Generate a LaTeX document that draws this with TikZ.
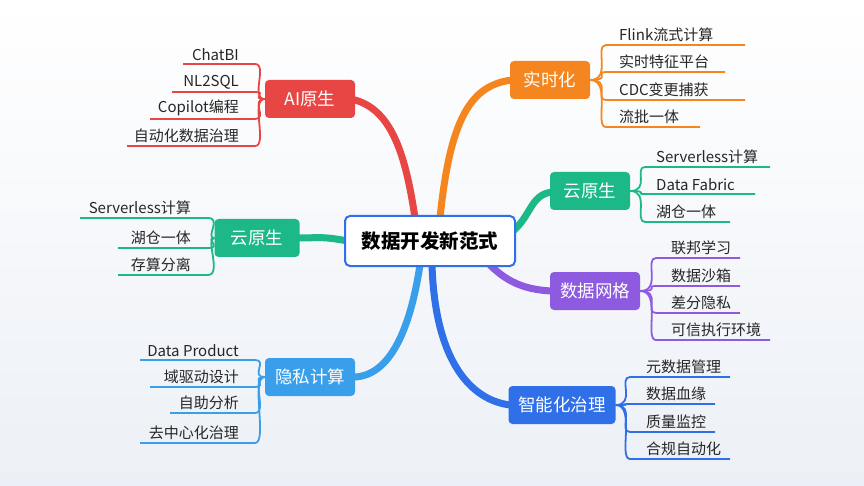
\documentclass[tikz,border=0pt]{standalone}
\usepackage{fontspec}
\setmainfont{Noto Sans CJK SC}
\begin{document}
\begin{tikzpicture}[x=1pt,y=-1pt,
  br/.style={line width=7pt,line cap=round},
  bx/.style={rounded corners=4pt,text=white,font=\fontsize{17.5}{19}\selectfont,minimum height=38pt,inner xsep=6pt},
  lf/.style={font=\fontsize{15}{17}\selectfont,text=black!85,inner sep=1pt},
  ln/.style={line width=1.8pt}]
\definecolor{cR}{HTML}{E84545}\definecolor{cO}{HTML}{F5861F}\definecolor{cG}{HTML}{1DB887}
\definecolor{cP}{HTML}{8E5BE0}\definecolor{cB}{HTML}{2F6FE8}\definecolor{cL}{HTML}{3A9FEA}
\fill[top color=white,bottom color={rgb,255:red,236;green,240;blue,246}] (0,0) rectangle (864,486);
\useasboundingbox (0,0) rectangle (864,486);
% branches
\coordinate (a0) at (415,218); \coordinate (a1) at (355,100);
\draw[br,cR] (a0) .. controls (405,150) and (390,110) .. (a1);
\coordinate (b0) at (440,218); \coordinate (b1) at (512,80);
\draw[br,cO] (b0) .. controls (450,120) and (470,85) .. (b1);
\coordinate (c0) at (512,232); \coordinate (c1) at (552,192);
\draw[br,cG] (c0) .. controls (532,215) and (530,195) .. (c1);
\coordinate (d0) at (490,265); \coordinate (d1) at (552,291);
\draw[br,cP] (d0) .. controls (510,285) and (530,290) .. (d1);
\coordinate (e0) at (432,265); \coordinate (e1) at (510,405);
\draw[br,cB] (e0) .. controls (435,360) and (470,400) .. (e1);
\coordinate (f0) at (420,265); \coordinate (f1) at (355,377);
\draw[br,cL] (f0) .. controls (410,330) and (390,375) .. (f1);
\coordinate (g0) at (348,241); \coordinate (g1) at (298,238);
\draw[br,cG] (g0) .. controls (320,236) and (320,238) .. (g1);
% nodes
\node[draw=cB,line width=2pt,fill=white,rounded corners=5pt,minimum width=170pt,minimum height=50pt,font=\fontsize{19.5}{21}\selectfont\bfseries] (center) at (430,241) {数据开发新范式};
\node[bx,fill=cR,minimum width=90pt] (ai) at (310,99) {AI原生};
\node[bx,fill=cO,minimum width=80pt] (rt) at (550,80) {实时化};
\node[bx,fill=cG,minimum width=80pt] (cnr) at (590,191) {云原生};
\node[bx,fill=cP,minimum width=90pt] (mesh) at (595,291) {数据网格};
\node[bx,fill=cB,minimum width=107pt] (gov) at (562,405) {智能化治理};
\node[bx,fill=cL,minimum width=90pt] (priv) at (310,377) {隐私计算};
\node[bx,fill=cG,minimum width=85pt] (cnl) at (257,238) {云原生};
% left leaves
\foreach \y/\xs/\t [count=\i] in {64/183/ChatBI,92/172/NL2SQL,119/150/Copilot编程,146/127/自动化数据治理}{
  \node[lf,anchor=south east] (ail\i) at (240,\y-2) {\t};
  \draw[ln,cR] (ai.west) .. controls (250,99) and (268,\y) .. (255,\y) -- (\xs,\y);}
\foreach \y/\xs/\t [count=\i] in {218/80/Serverless计算,248/118/湖仓一体,275/118/存算分离}{
  \node[lf,anchor=south east] (cll\i) at (192,\y-2) {\t};
  \draw[ln,cG] (cnl.west) .. controls (205,238) and (222,\y) .. (208,\y) -- (\xs,\y);}
\foreach \y/\xs/\t [count=\i] in {360/140/Data Product,387/150/域驱动设计,413/170/自助分析,443/140/去中心化治理}{
  \node[lf,anchor=south east] (pl\i) at (240,\y-2) {\t};
  \draw[ln,cL] (priv.west) .. controls (250,377) and (268,\y) .. (255,\y) -- (\xs,\y);}
% right leaves
\foreach \y/\xe/\t [count=\i] in {45/745/Flink流式计算,72/725/实时特征平台,100/745/CDC变更捕获,127/700/流批一体}{
  \node[lf,anchor=south west] (rtl\i) at (618,\y-2) {\t};
  \draw[ln,cO] (rt.east) .. controls (612,80) and (594,\y) .. (606,\y) -- (\xe,\y);}
\foreach \y/\xe/\t [count=\i] in {167/770/Serverless计算,194/755/Data Fabric,222/730/湖仓一体}{
  \node[lf,anchor=south west] (crl\i) at (655,\y-2) {\t};
  \draw[ln,cG] (cnr.east) .. controls (650,191) and (634,\y) .. (645,\y) -- (\xe,\y);}
\foreach \y/\xe/\t [count=\i] in {258/740/联邦学习,286/740/数据沙箱,313/740/差分隐私,340/770/可信执行环境}{
  \node[lf,anchor=south west] (ml\i) at (670,\y-2) {\t};
  \draw[ln,cP] (mesh.east) .. controls (662,291) and (644,\y) .. (656,\y) -- (\xe,\y);}
\foreach \y/\xe/\t [count=\i] in {377/730/元数据管理,404/715/数据血缘,432/715/质量监控,459/730/合规自动化}{
  \node[lf,anchor=south west] (gl\i) at (645,\y-2) {\t};
  \draw[ln,cB] (gov.east) .. controls (636,405) and (618,\y) .. (630,\y) -- (\xe,\y);}
\end{tikzpicture}
\end{document}
